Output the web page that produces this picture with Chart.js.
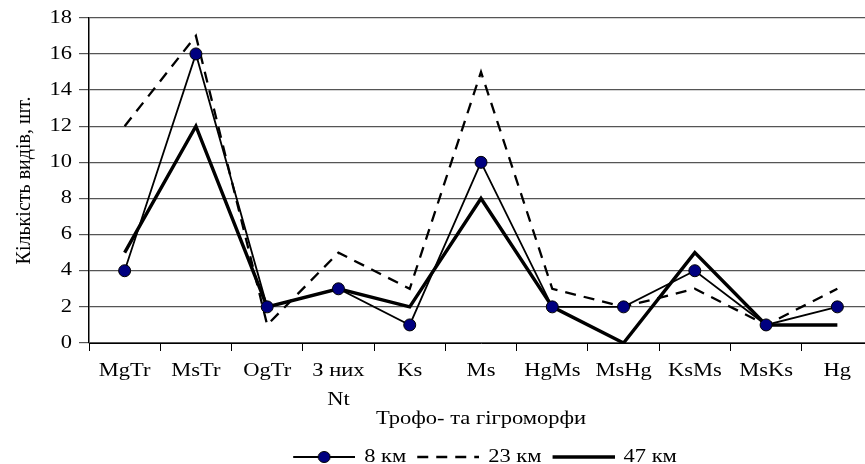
<!DOCTYPE html>
<html>
<head>
<meta charset="utf-8">
<script src="https://cdn.jsdelivr.net/npm/chart.js@4"></script>
<style>
  html, body { margin: 0; padding: 0; background: #fff; overflow: hidden; }
  canvas { display: block; }
</style>
</head>
<body>
<canvas id="chart" width="880" height="464"></canvas>
<script>
// categories (trophomorphs & hygromorphs)
const categories = ['MgTr', 'MsTr', 'OgTr', ['З них', 'Nt'], 'Ks', 'Ms', 'HgMs', 'MsHg', 'KsMs', 'MsKs', 'Hg'];

// number of species per distance
const km8  = [4, 16, 2, 3, 1, 10, 2, 2, 4, 1, 2];
const km23 = [12, 17, 1, 5, 3, 15, 3, 2, 3, 1, 3];
const km47 = [5, 12, 2, 3, 2, 8, 2, 0, 5, 1, 1];

const seriesNames = ['8 км', '23 км', '47 км'];
const yTicks = [0, 2, 4, 6, 8, 10, 12, 14, 16, 18];

const FONT = 'Liberation Serif, Times New Roman, serif';

// the source picture has its lettering a bit wide, stretch horizontal text the same way
const SX = 1.25;
const canvas = document.getElementById('chart');
const c2d = canvas.getContext('2d');
const origFill = c2d.fillText.bind(c2d);
const origMeasure = c2d.measureText.bind(c2d);
c2d.fillText = function (text, x, y, maxWidth) {
    const t = this.getTransform();
    if (Math.abs(t.b) > 1e-6) {
        return maxWidth === undefined ? origFill(text, x, y) : origFill(text, x, y, maxWidth);
    }
    this.save();
    this.translate(x, y);
    this.scale(SX, 1);
    if (maxWidth === undefined) origFill(text, 0, 0); else origFill(text, 0, 0, maxWidth / SX);
    this.restore();
};
c2d.measureText = function (text) {
    const m = origMeasure(text);
    return {
        width: m.width * SX,
        actualBoundingBoxLeft: m.actualBoundingBoxLeft * SX,
        actualBoundingBoxRight: m.actualBoundingBoxRight * SX,
        actualBoundingBoxAscent: m.actualBoundingBoxAscent,
        actualBoundingBoxDescent: m.actualBoundingBoxDescent,
        fontBoundingBoxAscent: m.fontBoundingBoxAscent,
        fontBoundingBoxDescent: m.fontBoundingBoxDescent
    };
};

// small picture used as legend symbol (line sits at the right of the box)
const SYM_W = 70;
function legendSymbol(ds) {
    const c = document.createElement('canvas');
    c.width = SYM_W; c.height = 14;
    const g = c.getContext('2d');
    const x0 = 8;
    g.strokeStyle = '#000';
    g.lineWidth = ds.borderWidth;
    g.setLineDash(ds.borderDash || []);
    g.beginPath();
    g.moveTo(x0, 7);
    g.lineTo(SYM_W, 7);
    g.stroke();
    if (ds.pointRadius > 0) {
        g.setLineDash([]);
        g.fillStyle = ds.pointBackgroundColor;
        g.lineWidth = 1;
        g.beginPath();
        g.ellipse((x0 + SYM_W) / 2, 7, 6, 5.5, 0, 0, Math.PI * 2);
        g.fill();
        g.stroke();
    }
    return c;
}

const datasets = [
    {
        label: seriesNames[0], data: km8,
        borderColor: '#000', borderWidth: 1.8,
        pointRadius: 6, pointHoverRadius: 6,
        pointBackgroundColor: '#000080', pointBorderColor: '#000', pointBorderWidth: 1,
        tension: 0, order: 1
    },
    {
        label: seriesNames[1], data: km23,
        borderColor: '#000', borderWidth: 2.3, borderDash: [11, 8],
        pointRadius: 0, tension: 0, order: 2
    },
    {
        label: seriesNames[2], data: km47,
        borderColor: '#000', borderWidth: 3.4,
        pointRadius: 0, tension: 0, order: 3
    }
];

// centre the legend under the plot area and drop it to the bottom edge
const legendPlace = {
    id: 'legendPlace',
    afterLayout(chart) {
        const lg = chart.legend, a = chart.chartArea;
        if (!lg) return;
        lg.left = a.left;
        lg.right = a.right;
        lg.top += 12;
        lg.bottom += 12;
    }
};

new Chart(canvas, {
    type: 'line',
    data: { labels: categories, datasets: datasets },
    plugins: [legendPlace],
    options: {
        responsive: false,
        animation: false,
        layout: { padding: { top: 15, right: 0, left: 0, bottom: 0 } },
        plugins: {
            tooltip: { enabled: false },
            legend: {
                position: 'bottom',
                labels: {
                    usePointStyle: true,
                    pointStyleWidth: SYM_W,
                    padding: 3,
                    color: '#000',
                    font: { family: FONT, size: 18 },
                    generateLabels: (chart) => chart.data.datasets.map((ds, i) => ({
                        text: ds.label,
                        pointStyle: legendSymbol(ds),
                        datasetIndex: i,
                        fontColor: '#000',
                        lineWidth: 0,
                        strokeStyle: 'transparent',
                        fillStyle: 'transparent'
                    }))
                }
            }
        },
        scales: {
            x: {
                offset: true,
                grid: { offset: true, drawOnChartArea: false, color: '#000', tickLength: 8, tickWidth: 1 },
                border: { color: '#000', width: 1 },
                ticks: { color: '#000', padding: 6, maxRotation: 0, autoSkip: false,
                    font: { family: FONT, size: 18, lineHeight: 1.6 } },
                title: { display: true, text: 'Трофо- та гігроморфи', color: '#000',
                    font: { family: FONT, size: 18 }, padding: { top: 0, bottom: 3 } },
                afterFit: (s) => { s.height = 90; s.paddingRight = 0; s.paddingLeft = 0; }
            },
            y: {
                min: 0, max: 18,
                afterBuildTicks: (s) => { s.ticks = yTicks.map(v => ({ value: v })); },
                grid: { color: '#555', tickLength: 10, lineWidth: 1.2 },
                border: { color: '#000', width: 1.5 },
                ticks: { color: '#000', padding: 7, font: { family: FONT, size: 18 } },
                title: { display: true, text: 'Кількість видів, шт.', color: '#000',
                    font: { family: FONT, size: 20 }, padding: { top: 13, bottom: 0 } },
                afterFit: (s) => { s.width = 89; }
            }
        }
    }
});
</script>
</body>
</html>
